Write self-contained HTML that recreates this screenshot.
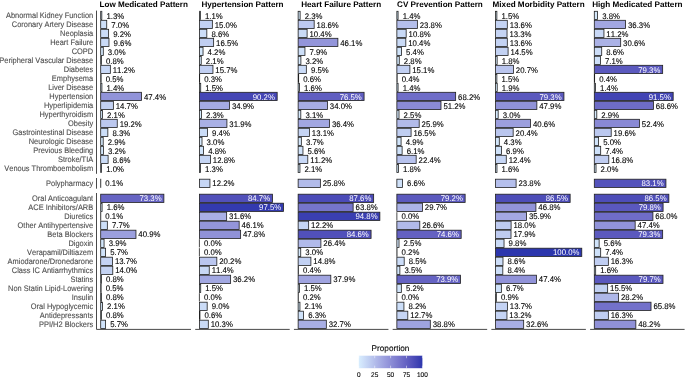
<!DOCTYPE html>
<html><head><meta charset="utf-8"><style>
html,body{margin:0;padding:0;background:#fff;}
body{width:685px;height:378px;overflow:hidden;}
svg{display:block;font-family:"Liberation Sans",sans-serif;text-rendering:geometricPrecision;will-change:transform;}
text{paint-order:stroke;font-kerning:none;}
</style></head><body>
<svg width="685" height="378" viewBox="0 0 685 378">
<rect width="685" height="378" fill="#ffffff"/>
<text transform="translate(143.75,6.70) scale(1,1.0)" font-size="8.15" text-anchor="middle" font-weight="bold" fill="#000" xml:space="preserve">Low Medicated Pattern</text>
<text transform="translate(242.47,6.70) scale(1,1.0)" font-size="8.15" text-anchor="middle" font-weight="bold" fill="#000" xml:space="preserve">Hypertension Pattern</text>
<text transform="translate(341.19,6.70) scale(1,1.0)" font-size="8.15" text-anchor="middle" font-weight="bold" fill="#000" xml:space="preserve">Heart Failure Pattern</text>
<text transform="translate(439.91,6.70) scale(1,1.0)" font-size="8.15" text-anchor="middle" font-weight="bold" fill="#000" xml:space="preserve">CV Prevention Pattern</text>
<text transform="translate(538.63,6.70) scale(1,1.0)" font-size="8.15" text-anchor="middle" font-weight="bold" fill="#000" xml:space="preserve">Mixed Morbidity Pattern</text>
<text transform="translate(637.35,6.70) scale(1,1.0)" font-size="8.15" text-anchor="middle" font-weight="bold" fill="#000" xml:space="preserve">High Medicated Pattern</text>
<line x1="96.50" y1="10.6" x2="96.50" y2="173.8" stroke="#404040" stroke-width="0.95"/>
<text transform="translate(93.20,18.43) scale(1,1.08)" font-size="7.45" text-anchor="end" fill="#4d4d4d" stroke="#4d4d4d" stroke-width="0.1" xml:space="preserve">Abnormal Kidney Function</text>
<text transform="translate(93.20,27.43) scale(1,1.08)" font-size="7.45" text-anchor="end" fill="#4d4d4d" stroke="#4d4d4d" stroke-width="0.1" xml:space="preserve">Coronary Artery Disease</text>
<text transform="translate(93.20,36.43) scale(1,1.08)" font-size="7.45" text-anchor="end" fill="#4d4d4d" stroke="#4d4d4d" stroke-width="0.1" xml:space="preserve">Neoplasia</text>
<text transform="translate(93.20,45.43) scale(1,1.08)" font-size="7.45" text-anchor="end" fill="#4d4d4d" stroke="#4d4d4d" stroke-width="0.1" xml:space="preserve">Heart Failure</text>
<text transform="translate(93.20,54.43) scale(1,1.08)" font-size="7.45" text-anchor="end" fill="#4d4d4d" stroke="#4d4d4d" stroke-width="0.1" xml:space="preserve">COPD</text>
<text transform="translate(93.20,63.43) scale(1,1.08)" font-size="7.45" text-anchor="end" fill="#4d4d4d" stroke="#4d4d4d" stroke-width="0.1" xml:space="preserve">Peripheral Vascular Disease</text>
<text transform="translate(93.20,72.43) scale(1,1.08)" font-size="7.45" text-anchor="end" fill="#4d4d4d" stroke="#4d4d4d" stroke-width="0.1" xml:space="preserve">Diabetes</text>
<text transform="translate(93.20,81.43) scale(1,1.08)" font-size="7.45" text-anchor="end" fill="#4d4d4d" stroke="#4d4d4d" stroke-width="0.1" xml:space="preserve">Emphysema</text>
<text transform="translate(93.20,90.43) scale(1,1.08)" font-size="7.45" text-anchor="end" fill="#4d4d4d" stroke="#4d4d4d" stroke-width="0.1" xml:space="preserve">Liver Disease</text>
<text transform="translate(93.20,99.43) scale(1,1.08)" font-size="7.45" text-anchor="end" fill="#4d4d4d" stroke="#4d4d4d" stroke-width="0.1" xml:space="preserve">Hypertension</text>
<text transform="translate(93.20,108.43) scale(1,1.08)" font-size="7.45" text-anchor="end" fill="#4d4d4d" stroke="#4d4d4d" stroke-width="0.1" xml:space="preserve">Hyperlipidemia</text>
<text transform="translate(93.20,117.43) scale(1,1.08)" font-size="7.45" text-anchor="end" fill="#4d4d4d" stroke="#4d4d4d" stroke-width="0.1" xml:space="preserve">Hyperthyroidism</text>
<text transform="translate(93.20,126.43) scale(1,1.08)" font-size="7.45" text-anchor="end" fill="#4d4d4d" stroke="#4d4d4d" stroke-width="0.1" xml:space="preserve">Obesity</text>
<text transform="translate(93.20,135.43) scale(1,1.08)" font-size="7.45" text-anchor="end" fill="#4d4d4d" stroke="#4d4d4d" stroke-width="0.1" xml:space="preserve">Gastrointestinal Disease</text>
<text transform="translate(93.20,144.43) scale(1,1.08)" font-size="7.45" text-anchor="end" fill="#4d4d4d" stroke="#4d4d4d" stroke-width="0.1" xml:space="preserve">Neurologic Disease</text>
<text transform="translate(93.20,153.43) scale(1,1.08)" font-size="7.45" text-anchor="end" fill="#4d4d4d" stroke="#4d4d4d" stroke-width="0.1" xml:space="preserve">Previous Bleeding</text>
<text transform="translate(93.20,162.43) scale(1,1.08)" font-size="7.45" text-anchor="end" fill="#4d4d4d" stroke="#4d4d4d" stroke-width="0.1" xml:space="preserve">Stroke/TIA</text>
<text transform="translate(93.20,171.43) scale(1,1.08)" font-size="7.45" text-anchor="end" fill="#4d4d4d" stroke="#4d4d4d" stroke-width="0.1" xml:space="preserve">Venous Thromboembolism</text>
<rect x="100.70" y="11.30" width="1.12" height="8.2" fill="#d6ecfd" stroke="#1e1e1e" stroke-width="0.8"/>
<text transform="translate(104.22,18.73) scale(1,1.05)" font-size="7.8" fill="#000" stroke="#000" stroke-width="0.1" xml:space="preserve"> 1.3%</text>
<rect x="100.70" y="20.30" width="6.03" height="8.2" fill="#cee0f9" stroke="#1e1e1e" stroke-width="0.8"/>
<text transform="translate(109.13,27.73) scale(1,1.05)" font-size="7.8" fill="#000" stroke="#000" stroke-width="0.1" xml:space="preserve"> 7.0%</text>
<rect x="100.70" y="29.30" width="7.93" height="8.2" fill="#cbdcf7" stroke="#1e1e1e" stroke-width="0.8"/>
<text transform="translate(111.03,36.73) scale(1,1.05)" font-size="7.8" fill="#000" stroke="#000" stroke-width="0.1" xml:space="preserve"> 9.2%</text>
<rect x="100.70" y="38.30" width="8.28" height="8.2" fill="#cadbf7" stroke="#1e1e1e" stroke-width="0.8"/>
<text transform="translate(111.38,45.73) scale(1,1.05)" font-size="7.8" fill="#000" stroke="#000" stroke-width="0.1" xml:space="preserve"> 9.6%</text>
<rect x="100.70" y="47.30" width="2.59" height="8.2" fill="#d4e8fc" stroke="#1e1e1e" stroke-width="0.8"/>
<text transform="translate(105.69,54.73) scale(1,1.05)" font-size="7.8" fill="#000" stroke="#000" stroke-width="0.1" xml:space="preserve"> 3.0%</text>
<rect x="100.70" y="56.30" width="0.69" height="8.2" fill="#d7edfe" stroke="#1e1e1e" stroke-width="0.8"/>
<text transform="translate(103.79,63.73) scale(1,1.05)" font-size="7.8" fill="#000" stroke="#000" stroke-width="0.1" xml:space="preserve"> 0.8%</text>
<rect x="100.70" y="65.30" width="9.65" height="8.2" fill="#c8d8f6" stroke="#1e1e1e" stroke-width="0.8"/>
<text transform="translate(112.75,72.73) scale(1,1.05)" font-size="7.8" fill="#000" stroke="#000" stroke-width="0.1" xml:space="preserve">11.2%</text>
<rect x="100.70" y="74.30" width="0.43" height="8.2" fill="#d8edfe" stroke="#1e1e1e" stroke-width="0.8"/>
<text transform="translate(103.53,81.73) scale(1,1.05)" font-size="7.8" fill="#000" stroke="#000" stroke-width="0.1" xml:space="preserve"> 0.5%</text>
<rect x="100.70" y="83.30" width="1.21" height="8.2" fill="#d6ecfd" stroke="#1e1e1e" stroke-width="0.8"/>
<text transform="translate(104.31,90.73) scale(1,1.05)" font-size="7.8" fill="#000" stroke="#000" stroke-width="0.1" xml:space="preserve"> 1.4%</text>
<rect x="100.70" y="92.30" width="40.86" height="8.2" fill="#9193d9" stroke="#1e1e1e" stroke-width="0.8"/>
<text transform="translate(143.96,99.73) scale(1,1.05)" font-size="7.8" fill="#000" stroke="#000" stroke-width="0.1" xml:space="preserve">47.4%</text>
<rect x="100.70" y="101.30" width="12.67" height="8.2" fill="#c3d1f3" stroke="#1e1e1e" stroke-width="0.8"/>
<text transform="translate(115.77,108.73) scale(1,1.05)" font-size="7.8" fill="#000" stroke="#000" stroke-width="0.1" xml:space="preserve">14.7%</text>
<rect x="100.70" y="110.30" width="1.81" height="8.2" fill="#d5eafd" stroke="#1e1e1e" stroke-width="0.8"/>
<text transform="translate(104.91,117.73) scale(1,1.05)" font-size="7.8" fill="#000" stroke="#000" stroke-width="0.1" xml:space="preserve"> 2.1%</text>
<rect x="100.70" y="119.30" width="16.55" height="8.2" fill="#bcc8ef" stroke="#1e1e1e" stroke-width="0.8"/>
<text transform="translate(119.65,126.73) scale(1,1.05)" font-size="7.8" fill="#000" stroke="#000" stroke-width="0.1" xml:space="preserve">19.2%</text>
<rect x="100.70" y="128.30" width="7.15" height="8.2" fill="#ccdef8" stroke="#1e1e1e" stroke-width="0.8"/>
<text transform="translate(110.25,135.73) scale(1,1.05)" font-size="7.8" fill="#000" stroke="#000" stroke-width="0.1" xml:space="preserve"> 8.3%</text>
<rect x="100.70" y="137.30" width="2.50" height="8.2" fill="#d4e9fc" stroke="#1e1e1e" stroke-width="0.8"/>
<text transform="translate(105.60,144.73) scale(1,1.05)" font-size="7.8" fill="#000" stroke="#000" stroke-width="0.1" xml:space="preserve"> 2.9%</text>
<rect x="100.70" y="146.30" width="2.76" height="8.2" fill="#d4e8fc" stroke="#1e1e1e" stroke-width="0.8"/>
<text transform="translate(105.86,153.73) scale(1,1.05)" font-size="7.8" fill="#000" stroke="#000" stroke-width="0.1" xml:space="preserve"> 3.2%</text>
<rect x="100.70" y="155.30" width="7.41" height="8.2" fill="#ccddf8" stroke="#1e1e1e" stroke-width="0.8"/>
<text transform="translate(110.51,162.73) scale(1,1.05)" font-size="7.8" fill="#000" stroke="#000" stroke-width="0.1" xml:space="preserve"> 8.6%</text>
<rect x="100.70" y="164.30" width="0.86" height="8.2" fill="#d7ecfe" stroke="#1e1e1e" stroke-width="0.8"/>
<text transform="translate(103.96,171.73) scale(1,1.05)" font-size="7.8" fill="#000" stroke="#000" stroke-width="0.1" xml:space="preserve"> 1.0%</text>
<rect x="199.42" y="11.30" width="0.95" height="8.2" fill="#d7ecfe" stroke="#1e1e1e" stroke-width="0.8"/>
<text transform="translate(202.77,18.73) scale(1,1.05)" font-size="7.8" fill="#000" stroke="#000" stroke-width="0.1" xml:space="preserve"> 1.1%</text>
<rect x="199.42" y="20.30" width="12.93" height="8.2" fill="#c2d1f3" stroke="#1e1e1e" stroke-width="0.8"/>
<text transform="translate(214.75,27.73) scale(1,1.05)" font-size="7.8" fill="#000" stroke="#000" stroke-width="0.1" xml:space="preserve">15.0%</text>
<rect x="199.42" y="29.30" width="7.41" height="8.2" fill="#ccddf8" stroke="#1e1e1e" stroke-width="0.8"/>
<text transform="translate(209.23,36.73) scale(1,1.05)" font-size="7.8" fill="#000" stroke="#000" stroke-width="0.1" xml:space="preserve"> 8.6%</text>
<rect x="199.42" y="38.30" width="14.22" height="8.2" fill="#c0cef1" stroke="#1e1e1e" stroke-width="0.8"/>
<text transform="translate(216.04,45.73) scale(1,1.05)" font-size="7.8" fill="#000" stroke="#000" stroke-width="0.1" xml:space="preserve">16.5%</text>
<rect x="199.42" y="47.30" width="3.62" height="8.2" fill="#d2e6fb" stroke="#1e1e1e" stroke-width="0.8"/>
<text transform="translate(205.44,54.73) scale(1,1.05)" font-size="7.8" fill="#000" stroke="#000" stroke-width="0.1" xml:space="preserve"> 4.2%</text>
<rect x="199.42" y="56.30" width="1.81" height="8.2" fill="#d5eafd" stroke="#1e1e1e" stroke-width="0.8"/>
<text transform="translate(203.63,63.73) scale(1,1.05)" font-size="7.8" fill="#000" stroke="#000" stroke-width="0.1" xml:space="preserve"> 2.1%</text>
<rect x="199.42" y="65.30" width="13.53" height="8.2" fill="#c1cff2" stroke="#1e1e1e" stroke-width="0.8"/>
<text transform="translate(215.35,72.73) scale(1,1.05)" font-size="7.8" fill="#000" stroke="#000" stroke-width="0.1" xml:space="preserve">15.7%</text>
<rect x="199.42" y="74.30" width="0.26" height="8.2" fill="#d8eefe" stroke="#1e1e1e" stroke-width="0.8"/>
<text transform="translate(202.08,81.73) scale(1,1.05)" font-size="7.8" fill="#000" stroke="#000" stroke-width="0.1" xml:space="preserve"> 0.3%</text>
<rect x="199.42" y="83.30" width="1.29" height="8.2" fill="#d6ebfd" stroke="#1e1e1e" stroke-width="0.8"/>
<text transform="translate(203.11,90.73) scale(1,1.05)" font-size="7.8" fill="#000" stroke="#000" stroke-width="0.1" xml:space="preserve"> 1.5%</text>
<rect x="199.42" y="92.30" width="77.75" height="8.2" fill="#4546b5" stroke="#1e1e1e" stroke-width="0.8"/>
<text transform="translate(274.87,99.73) scale(1,1.05)" font-size="7.8" text-anchor="end" fill="#ffffff" xml:space="preserve">90.2%</text>
<rect x="199.42" y="101.30" width="30.08" height="8.2" fill="#a4aae3" stroke="#1e1e1e" stroke-width="0.8"/>
<text transform="translate(231.90,108.73) scale(1,1.05)" font-size="7.8" fill="#000" stroke="#000" stroke-width="0.1" xml:space="preserve">34.9%</text>
<rect x="199.42" y="110.30" width="1.98" height="8.2" fill="#d5eafd" stroke="#1e1e1e" stroke-width="0.8"/>
<text transform="translate(203.80,117.73) scale(1,1.05)" font-size="7.8" fill="#000" stroke="#000" stroke-width="0.1" xml:space="preserve"> 2.3%</text>
<rect x="199.42" y="119.30" width="27.50" height="8.2" fill="#a9b0e5" stroke="#1e1e1e" stroke-width="0.8"/>
<text transform="translate(229.32,126.73) scale(1,1.05)" font-size="7.8" fill="#000" stroke="#000" stroke-width="0.1" xml:space="preserve">31.9%</text>
<rect x="199.42" y="128.30" width="8.10" height="8.2" fill="#cadcf7" stroke="#1e1e1e" stroke-width="0.8"/>
<text transform="translate(209.92,135.73) scale(1,1.05)" font-size="7.8" fill="#000" stroke="#000" stroke-width="0.1" xml:space="preserve"> 9.4%</text>
<rect x="199.42" y="137.30" width="2.59" height="8.2" fill="#d4e8fc" stroke="#1e1e1e" stroke-width="0.8"/>
<text transform="translate(204.41,144.73) scale(1,1.05)" font-size="7.8" fill="#000" stroke="#000" stroke-width="0.1" xml:space="preserve"> 3.0%</text>
<rect x="199.42" y="146.30" width="4.14" height="8.2" fill="#d1e5fb" stroke="#1e1e1e" stroke-width="0.8"/>
<text transform="translate(205.96,153.73) scale(1,1.05)" font-size="7.8" fill="#000" stroke="#000" stroke-width="0.1" xml:space="preserve"> 4.8%</text>
<rect x="199.42" y="155.30" width="11.03" height="8.2" fill="#c5d5f4" stroke="#1e1e1e" stroke-width="0.8"/>
<text transform="translate(212.85,162.73) scale(1,1.05)" font-size="7.8" fill="#000" stroke="#000" stroke-width="0.1" xml:space="preserve">12.8%</text>
<rect x="199.42" y="164.30" width="1.12" height="8.2" fill="#d6ecfd" stroke="#1e1e1e" stroke-width="0.8"/>
<text transform="translate(202.94,171.73) scale(1,1.05)" font-size="7.8" fill="#000" stroke="#000" stroke-width="0.1" xml:space="preserve"> 1.3%</text>
<rect x="298.14" y="11.30" width="1.98" height="8.2" fill="#d5eafd" stroke="#1e1e1e" stroke-width="0.8"/>
<text transform="translate(302.52,18.73) scale(1,1.05)" font-size="7.8" fill="#000" stroke="#000" stroke-width="0.1" xml:space="preserve"> 2.3%</text>
<rect x="298.14" y="20.30" width="16.03" height="8.2" fill="#bdc9f0" stroke="#1e1e1e" stroke-width="0.8"/>
<text transform="translate(316.57,27.73) scale(1,1.05)" font-size="7.8" fill="#000" stroke="#000" stroke-width="0.1" xml:space="preserve">18.6%</text>
<rect x="298.14" y="29.30" width="8.96" height="8.2" fill="#c9daf6" stroke="#1e1e1e" stroke-width="0.8"/>
<text transform="translate(309.50,36.73) scale(1,1.05)" font-size="7.8" fill="#000" stroke="#000" stroke-width="0.1" xml:space="preserve">10.4%</text>
<rect x="298.14" y="38.30" width="39.74" height="8.2" fill="#9395da" stroke="#1e1e1e" stroke-width="0.8"/>
<text transform="translate(340.28,45.73) scale(1,1.05)" font-size="7.8" fill="#000" stroke="#000" stroke-width="0.1" xml:space="preserve">46.1%</text>
<rect x="298.14" y="47.30" width="6.81" height="8.2" fill="#cddff8" stroke="#1e1e1e" stroke-width="0.8"/>
<text transform="translate(307.35,54.73) scale(1,1.05)" font-size="7.8" fill="#000" stroke="#000" stroke-width="0.1" xml:space="preserve"> 7.9%</text>
<rect x="298.14" y="56.30" width="2.76" height="8.2" fill="#d4e8fc" stroke="#1e1e1e" stroke-width="0.8"/>
<text transform="translate(303.30,63.73) scale(1,1.05)" font-size="7.8" fill="#000" stroke="#000" stroke-width="0.1" xml:space="preserve"> 3.2%</text>
<rect x="298.14" y="65.30" width="8.19" height="8.2" fill="#cadbf7" stroke="#1e1e1e" stroke-width="0.8"/>
<text transform="translate(308.73,72.73) scale(1,1.05)" font-size="7.8" fill="#000" stroke="#000" stroke-width="0.1" xml:space="preserve"> 9.5%</text>
<rect x="298.14" y="74.30" width="0.52" height="8.2" fill="#d7edfe" stroke="#1e1e1e" stroke-width="0.8"/>
<text transform="translate(301.06,81.73) scale(1,1.05)" font-size="7.8" fill="#000" stroke="#000" stroke-width="0.1" xml:space="preserve"> 0.6%</text>
<rect x="298.14" y="83.30" width="1.38" height="8.2" fill="#d6ebfd" stroke="#1e1e1e" stroke-width="0.8"/>
<text transform="translate(301.92,90.73) scale(1,1.05)" font-size="7.8" fill="#000" stroke="#000" stroke-width="0.1" xml:space="preserve"> 1.6%</text>
<rect x="298.14" y="92.30" width="65.94" height="8.2" fill="#605ec1" stroke="#1e1e1e" stroke-width="0.8"/>
<text transform="translate(361.78,99.73) scale(1,1.05)" font-size="7.8" text-anchor="end" fill="#ffffff" xml:space="preserve">76.5%</text>
<rect x="298.14" y="101.30" width="29.31" height="8.2" fill="#a6ace3" stroke="#1e1e1e" stroke-width="0.8"/>
<text transform="translate(329.85,108.73) scale(1,1.05)" font-size="7.8" fill="#000" stroke="#000" stroke-width="0.1" xml:space="preserve">34.0%</text>
<rect x="298.14" y="110.30" width="2.67" height="8.2" fill="#d4e8fc" stroke="#1e1e1e" stroke-width="0.8"/>
<text transform="translate(303.21,117.73) scale(1,1.05)" font-size="7.8" fill="#000" stroke="#000" stroke-width="0.1" xml:space="preserve"> 3.1%</text>
<rect x="298.14" y="119.30" width="31.38" height="8.2" fill="#a2a7e2" stroke="#1e1e1e" stroke-width="0.8"/>
<text transform="translate(331.92,126.73) scale(1,1.05)" font-size="7.8" fill="#000" stroke="#000" stroke-width="0.1" xml:space="preserve">36.4%</text>
<rect x="298.14" y="128.30" width="11.29" height="8.2" fill="#c5d4f4" stroke="#1e1e1e" stroke-width="0.8"/>
<text transform="translate(311.83,135.73) scale(1,1.05)" font-size="7.8" fill="#000" stroke="#000" stroke-width="0.1" xml:space="preserve">13.1%</text>
<rect x="298.14" y="137.30" width="3.19" height="8.2" fill="#d3e7fc" stroke="#1e1e1e" stroke-width="0.8"/>
<text transform="translate(303.73,144.73) scale(1,1.05)" font-size="7.8" fill="#000" stroke="#000" stroke-width="0.1" xml:space="preserve"> 3.7%</text>
<rect x="298.14" y="146.30" width="4.83" height="8.2" fill="#d0e3fa" stroke="#1e1e1e" stroke-width="0.8"/>
<text transform="translate(305.37,153.73) scale(1,1.05)" font-size="7.8" fill="#000" stroke="#000" stroke-width="0.1" xml:space="preserve"> 5.6%</text>
<rect x="298.14" y="155.30" width="9.65" height="8.2" fill="#c8d8f6" stroke="#1e1e1e" stroke-width="0.8"/>
<text transform="translate(310.19,162.73) scale(1,1.05)" font-size="7.8" fill="#000" stroke="#000" stroke-width="0.1" xml:space="preserve">11.2%</text>
<rect x="298.14" y="164.30" width="1.81" height="8.2" fill="#d5eafd" stroke="#1e1e1e" stroke-width="0.8"/>
<text transform="translate(302.35,171.73) scale(1,1.05)" font-size="7.8" fill="#000" stroke="#000" stroke-width="0.1" xml:space="preserve"> 2.1%</text>
<rect x="396.86" y="11.30" width="1.21" height="8.2" fill="#d6ecfd" stroke="#1e1e1e" stroke-width="0.8"/>
<text transform="translate(400.47,18.73) scale(1,1.05)" font-size="7.8" fill="#000" stroke="#000" stroke-width="0.1" xml:space="preserve"> 1.4%</text>
<rect x="396.86" y="20.30" width="20.52" height="8.2" fill="#b5bfec" stroke="#1e1e1e" stroke-width="0.8"/>
<text transform="translate(419.78,27.73) scale(1,1.05)" font-size="7.8" fill="#000" stroke="#000" stroke-width="0.1" xml:space="preserve">23.8%</text>
<rect x="396.86" y="29.30" width="9.31" height="8.2" fill="#c8d9f6" stroke="#1e1e1e" stroke-width="0.8"/>
<text transform="translate(408.57,36.73) scale(1,1.05)" font-size="7.8" fill="#000" stroke="#000" stroke-width="0.1" xml:space="preserve">10.8%</text>
<rect x="396.86" y="38.30" width="8.96" height="8.2" fill="#c9daf6" stroke="#1e1e1e" stroke-width="0.8"/>
<text transform="translate(408.22,45.73) scale(1,1.05)" font-size="7.8" fill="#000" stroke="#000" stroke-width="0.1" xml:space="preserve">10.4%</text>
<rect x="396.86" y="47.30" width="4.65" height="8.2" fill="#d0e4fa" stroke="#1e1e1e" stroke-width="0.8"/>
<text transform="translate(403.91,54.73) scale(1,1.05)" font-size="7.8" fill="#000" stroke="#000" stroke-width="0.1" xml:space="preserve"> 5.4%</text>
<rect x="396.86" y="56.30" width="2.41" height="8.2" fill="#d4e9fc" stroke="#1e1e1e" stroke-width="0.8"/>
<text transform="translate(401.67,63.73) scale(1,1.05)" font-size="7.8" fill="#000" stroke="#000" stroke-width="0.1" xml:space="preserve"> 2.8%</text>
<rect x="396.86" y="65.30" width="13.02" height="8.2" fill="#c2d0f3" stroke="#1e1e1e" stroke-width="0.8"/>
<text transform="translate(412.28,72.73) scale(1,1.05)" font-size="7.8" fill="#000" stroke="#000" stroke-width="0.1" xml:space="preserve">15.1%</text>
<rect x="396.86" y="74.30" width="0.34" height="8.2" fill="#d8eefe" stroke="#1e1e1e" stroke-width="0.8"/>
<text transform="translate(399.60,81.73) scale(1,1.05)" font-size="7.8" fill="#000" stroke="#000" stroke-width="0.1" xml:space="preserve"> 0.4%</text>
<rect x="396.86" y="83.30" width="1.21" height="8.2" fill="#d6ecfd" stroke="#1e1e1e" stroke-width="0.8"/>
<text transform="translate(400.47,90.73) scale(1,1.05)" font-size="7.8" fill="#000" stroke="#000" stroke-width="0.1" xml:space="preserve"> 1.4%</text>
<rect x="396.86" y="92.30" width="58.79" height="8.2" fill="#6f6dc8" stroke="#1e1e1e" stroke-width="0.8"/>
<text transform="translate(458.05,99.73) scale(1,1.05)" font-size="7.8" fill="#000" stroke="#000" stroke-width="0.1" xml:space="preserve">68.2%</text>
<rect x="396.86" y="101.30" width="44.13" height="8.2" fill="#8b8bd6" stroke="#1e1e1e" stroke-width="0.8"/>
<text transform="translate(443.39,108.73) scale(1,1.05)" font-size="7.8" fill="#000" stroke="#000" stroke-width="0.1" xml:space="preserve">51.2%</text>
<rect x="396.86" y="110.30" width="2.15" height="8.2" fill="#d5e9fd" stroke="#1e1e1e" stroke-width="0.8"/>
<text transform="translate(401.41,117.73) scale(1,1.05)" font-size="7.8" fill="#000" stroke="#000" stroke-width="0.1" xml:space="preserve"> 2.5%</text>
<rect x="396.86" y="119.30" width="22.33" height="8.2" fill="#b2bbea" stroke="#1e1e1e" stroke-width="0.8"/>
<text transform="translate(421.59,126.73) scale(1,1.05)" font-size="7.8" fill="#000" stroke="#000" stroke-width="0.1" xml:space="preserve">25.9%</text>
<rect x="396.86" y="128.30" width="14.22" height="8.2" fill="#c0cef1" stroke="#1e1e1e" stroke-width="0.8"/>
<text transform="translate(413.48,135.73) scale(1,1.05)" font-size="7.8" fill="#000" stroke="#000" stroke-width="0.1" xml:space="preserve">16.5%</text>
<rect x="396.86" y="137.30" width="4.22" height="8.2" fill="#d1e5fb" stroke="#1e1e1e" stroke-width="0.8"/>
<text transform="translate(403.48,144.73) scale(1,1.05)" font-size="7.8" fill="#000" stroke="#000" stroke-width="0.1" xml:space="preserve"> 4.9%</text>
<rect x="396.86" y="146.30" width="5.26" height="8.2" fill="#cfe2fa" stroke="#1e1e1e" stroke-width="0.8"/>
<text transform="translate(404.52,153.73) scale(1,1.05)" font-size="7.8" fill="#000" stroke="#000" stroke-width="0.1" xml:space="preserve"> 6.1%</text>
<rect x="396.86" y="155.30" width="19.31" height="8.2" fill="#b7c2ed" stroke="#1e1e1e" stroke-width="0.8"/>
<text transform="translate(418.57,162.73) scale(1,1.05)" font-size="7.8" fill="#000" stroke="#000" stroke-width="0.1" xml:space="preserve">22.4%</text>
<rect x="396.86" y="164.30" width="1.55" height="8.2" fill="#d6ebfd" stroke="#1e1e1e" stroke-width="0.8"/>
<text transform="translate(400.81,171.73) scale(1,1.05)" font-size="7.8" fill="#000" stroke="#000" stroke-width="0.1" xml:space="preserve"> 1.8%</text>
<rect x="495.58" y="11.30" width="1.29" height="8.2" fill="#d6ebfd" stroke="#1e1e1e" stroke-width="0.8"/>
<text transform="translate(499.27,18.73) scale(1,1.05)" font-size="7.8" fill="#000" stroke="#000" stroke-width="0.1" xml:space="preserve"> 1.5%</text>
<rect x="495.58" y="20.30" width="11.72" height="8.2" fill="#c4d3f4" stroke="#1e1e1e" stroke-width="0.8"/>
<text transform="translate(509.70,27.73) scale(1,1.05)" font-size="7.8" fill="#000" stroke="#000" stroke-width="0.1" xml:space="preserve">13.6%</text>
<rect x="495.58" y="29.30" width="11.46" height="8.2" fill="#c5d4f4" stroke="#1e1e1e" stroke-width="0.8"/>
<text transform="translate(509.44,36.73) scale(1,1.05)" font-size="7.8" fill="#000" stroke="#000" stroke-width="0.1" xml:space="preserve">13.3%</text>
<rect x="495.58" y="38.30" width="11.72" height="8.2" fill="#c4d3f4" stroke="#1e1e1e" stroke-width="0.8"/>
<text transform="translate(509.70,45.73) scale(1,1.05)" font-size="7.8" fill="#000" stroke="#000" stroke-width="0.1" xml:space="preserve">13.6%</text>
<rect x="495.58" y="47.30" width="12.50" height="8.2" fill="#c3d2f3" stroke="#1e1e1e" stroke-width="0.8"/>
<text transform="translate(510.48,54.73) scale(1,1.05)" font-size="7.8" fill="#000" stroke="#000" stroke-width="0.1" xml:space="preserve">14.5%</text>
<rect x="495.58" y="56.30" width="1.55" height="8.2" fill="#d6ebfd" stroke="#1e1e1e" stroke-width="0.8"/>
<text transform="translate(499.53,63.73) scale(1,1.05)" font-size="7.8" fill="#000" stroke="#000" stroke-width="0.1" xml:space="preserve"> 1.8%</text>
<rect x="495.58" y="65.30" width="17.84" height="8.2" fill="#bac5ee" stroke="#1e1e1e" stroke-width="0.8"/>
<text transform="translate(515.82,72.73) scale(1,1.05)" font-size="7.8" fill="#000" stroke="#000" stroke-width="0.1" xml:space="preserve">20.7%</text>
<rect x="495.58" y="74.30" width="1.29" height="8.2" fill="#d6ebfd" stroke="#1e1e1e" stroke-width="0.8"/>
<text transform="translate(499.27,81.73) scale(1,1.05)" font-size="7.8" fill="#000" stroke="#000" stroke-width="0.1" xml:space="preserve"> 1.5%</text>
<rect x="495.58" y="83.30" width="1.64" height="8.2" fill="#d5ebfd" stroke="#1e1e1e" stroke-width="0.8"/>
<text transform="translate(499.62,90.73) scale(1,1.05)" font-size="7.8" fill="#000" stroke="#000" stroke-width="0.1" xml:space="preserve"> 1.9%</text>
<rect x="495.58" y="92.30" width="68.36" height="8.2" fill="#5b59be" stroke="#1e1e1e" stroke-width="0.8"/>
<text transform="translate(561.64,99.73) scale(1,1.05)" font-size="7.8" text-anchor="end" fill="#ffffff" xml:space="preserve">79.3%</text>
<rect x="495.58" y="101.30" width="41.29" height="8.2" fill="#9092d8" stroke="#1e1e1e" stroke-width="0.8"/>
<text transform="translate(539.27,108.73) scale(1,1.05)" font-size="7.8" fill="#000" stroke="#000" stroke-width="0.1" xml:space="preserve">47.9%</text>
<rect x="495.58" y="110.30" width="2.59" height="8.2" fill="#d4e8fc" stroke="#1e1e1e" stroke-width="0.8"/>
<text transform="translate(500.57,117.73) scale(1,1.05)" font-size="7.8" fill="#000" stroke="#000" stroke-width="0.1" xml:space="preserve"> 3.0%</text>
<rect x="495.58" y="119.30" width="35.00" height="8.2" fill="#9c9fde" stroke="#1e1e1e" stroke-width="0.8"/>
<text transform="translate(532.98,126.73) scale(1,1.05)" font-size="7.8" fill="#000" stroke="#000" stroke-width="0.1" xml:space="preserve">40.6%</text>
<rect x="495.58" y="128.30" width="17.58" height="8.2" fill="#bac6ee" stroke="#1e1e1e" stroke-width="0.8"/>
<text transform="translate(515.56,135.73) scale(1,1.05)" font-size="7.8" fill="#000" stroke="#000" stroke-width="0.1" xml:space="preserve">20.4%</text>
<rect x="495.58" y="137.30" width="3.71" height="8.2" fill="#d2e6fb" stroke="#1e1e1e" stroke-width="0.8"/>
<text transform="translate(501.69,144.73) scale(1,1.05)" font-size="7.8" fill="#000" stroke="#000" stroke-width="0.1" xml:space="preserve"> 4.3%</text>
<rect x="495.58" y="146.30" width="5.95" height="8.2" fill="#cee1f9" stroke="#1e1e1e" stroke-width="0.8"/>
<text transform="translate(503.93,153.73) scale(1,1.05)" font-size="7.8" fill="#000" stroke="#000" stroke-width="0.1" xml:space="preserve"> 6.9%</text>
<rect x="495.58" y="155.30" width="10.69" height="8.2" fill="#c6d6f5" stroke="#1e1e1e" stroke-width="0.8"/>
<text transform="translate(508.67,162.73) scale(1,1.05)" font-size="7.8" fill="#000" stroke="#000" stroke-width="0.1" xml:space="preserve">12.4%</text>
<rect x="495.58" y="164.30" width="1.38" height="8.2" fill="#d6ebfd" stroke="#1e1e1e" stroke-width="0.8"/>
<text transform="translate(499.36,171.73) scale(1,1.05)" font-size="7.8" fill="#000" stroke="#000" stroke-width="0.1" xml:space="preserve"> 1.6%</text>
<rect x="594.30" y="11.30" width="3.28" height="8.2" fill="#d3e7fb" stroke="#1e1e1e" stroke-width="0.8"/>
<text transform="translate(599.98,18.73) scale(1,1.05)" font-size="7.8" fill="#000" stroke="#000" stroke-width="0.1" xml:space="preserve"> 3.8%</text>
<rect x="594.30" y="20.30" width="31.29" height="8.2" fill="#a2a7e2" stroke="#1e1e1e" stroke-width="0.8"/>
<text transform="translate(627.99,27.73) scale(1,1.05)" font-size="7.8" fill="#000" stroke="#000" stroke-width="0.1" xml:space="preserve">36.3%</text>
<rect x="594.30" y="29.30" width="9.65" height="8.2" fill="#c8d8f6" stroke="#1e1e1e" stroke-width="0.8"/>
<text transform="translate(606.35,36.73) scale(1,1.05)" font-size="7.8" fill="#000" stroke="#000" stroke-width="0.1" xml:space="preserve">11.2%</text>
<rect x="594.30" y="38.30" width="26.38" height="8.2" fill="#abb2e6" stroke="#1e1e1e" stroke-width="0.8"/>
<text transform="translate(623.08,45.73) scale(1,1.05)" font-size="7.8" fill="#000" stroke="#000" stroke-width="0.1" xml:space="preserve">30.6%</text>
<rect x="594.30" y="47.30" width="7.41" height="8.2" fill="#ccddf8" stroke="#1e1e1e" stroke-width="0.8"/>
<text transform="translate(604.11,54.73) scale(1,1.05)" font-size="7.8" fill="#000" stroke="#000" stroke-width="0.1" xml:space="preserve"> 8.6%</text>
<rect x="594.30" y="56.30" width="6.12" height="8.2" fill="#cee0f9" stroke="#1e1e1e" stroke-width="0.8"/>
<text transform="translate(602.82,63.73) scale(1,1.05)" font-size="7.8" fill="#000" stroke="#000" stroke-width="0.1" xml:space="preserve"> 7.1%</text>
<rect x="594.30" y="65.30" width="68.36" height="8.2" fill="#5b59be" stroke="#1e1e1e" stroke-width="0.8"/>
<text transform="translate(660.36,72.73) scale(1,1.05)" font-size="7.8" text-anchor="end" fill="#ffffff" xml:space="preserve">79.3%</text>
<rect x="594.30" y="74.30" width="0.34" height="8.2" fill="#d8eefe" stroke="#1e1e1e" stroke-width="0.8"/>
<text transform="translate(597.04,81.73) scale(1,1.05)" font-size="7.8" fill="#000" stroke="#000" stroke-width="0.1" xml:space="preserve"> 0.4%</text>
<rect x="594.30" y="83.30" width="1.21" height="8.2" fill="#d6ecfd" stroke="#1e1e1e" stroke-width="0.8"/>
<text transform="translate(597.91,90.73) scale(1,1.05)" font-size="7.8" fill="#000" stroke="#000" stroke-width="0.1" xml:space="preserve"> 1.4%</text>
<rect x="594.30" y="92.30" width="78.87" height="8.2" fill="#4244b4" stroke="#1e1e1e" stroke-width="0.8"/>
<text transform="translate(670.87,99.73) scale(1,1.05)" font-size="7.8" text-anchor="end" fill="#ffffff" xml:space="preserve">91.5%</text>
<rect x="594.30" y="101.30" width="59.13" height="8.2" fill="#6e6cc7" stroke="#1e1e1e" stroke-width="0.8"/>
<text transform="translate(655.83,108.73) scale(1,1.05)" font-size="7.8" fill="#000" stroke="#000" stroke-width="0.1" xml:space="preserve">68.6%</text>
<rect x="594.30" y="110.30" width="2.50" height="8.2" fill="#d4e9fc" stroke="#1e1e1e" stroke-width="0.8"/>
<text transform="translate(599.20,117.73) scale(1,1.05)" font-size="7.8" fill="#000" stroke="#000" stroke-width="0.1" xml:space="preserve"> 2.9%</text>
<rect x="594.30" y="119.30" width="45.17" height="8.2" fill="#8989d5" stroke="#1e1e1e" stroke-width="0.8"/>
<text transform="translate(641.87,126.73) scale(1,1.05)" font-size="7.8" fill="#000" stroke="#000" stroke-width="0.1" xml:space="preserve">52.4%</text>
<rect x="594.30" y="128.30" width="16.90" height="8.2" fill="#bbc8ef" stroke="#1e1e1e" stroke-width="0.8"/>
<text transform="translate(613.60,135.73) scale(1,1.05)" font-size="7.8" fill="#000" stroke="#000" stroke-width="0.1" xml:space="preserve">19.6%</text>
<rect x="594.30" y="137.30" width="4.31" height="8.2" fill="#d1e4fb" stroke="#1e1e1e" stroke-width="0.8"/>
<text transform="translate(601.01,144.73) scale(1,1.05)" font-size="7.8" fill="#000" stroke="#000" stroke-width="0.1" xml:space="preserve"> 5.0%</text>
<rect x="594.30" y="146.30" width="6.38" height="8.2" fill="#cde0f9" stroke="#1e1e1e" stroke-width="0.8"/>
<text transform="translate(603.08,153.73) scale(1,1.05)" font-size="7.8" fill="#000" stroke="#000" stroke-width="0.1" xml:space="preserve"> 7.4%</text>
<rect x="594.30" y="155.30" width="14.48" height="8.2" fill="#c0cdf1" stroke="#1e1e1e" stroke-width="0.8"/>
<text transform="translate(611.18,162.73) scale(1,1.05)" font-size="7.8" fill="#000" stroke="#000" stroke-width="0.1" xml:space="preserve">16.8%</text>
<rect x="594.30" y="164.30" width="1.72" height="8.2" fill="#d5eafd" stroke="#1e1e1e" stroke-width="0.8"/>
<text transform="translate(598.42,171.73) scale(1,1.05)" font-size="7.8" fill="#000" stroke="#000" stroke-width="0.1" xml:space="preserve"> 2.0%</text>
<line x1="96.50" y1="178.0" x2="96.50" y2="188.7" stroke="#404040" stroke-width="0.95"/>
<text transform="translate(93.20,186.38) scale(1,1.08)" font-size="7.45" text-anchor="end" fill="#4d4d4d" stroke="#4d4d4d" stroke-width="0.1" xml:space="preserve">Polypharmacy</text>
<rect x="100.70" y="179.20" width="0.09" height="8.2" fill="#d8eefe" stroke="#1e1e1e" stroke-width="0.8"/>
<text transform="translate(103.19,186.43) scale(1,1.05)" font-size="7.8" fill="#000" stroke="#000" stroke-width="0.1" xml:space="preserve"> 0.1%</text>
<rect x="199.42" y="179.20" width="10.52" height="8.2" fill="#c6d6f5" stroke="#1e1e1e" stroke-width="0.8"/>
<text transform="translate(212.34,186.43) scale(1,1.05)" font-size="7.8" fill="#000" stroke="#000" stroke-width="0.1" xml:space="preserve">12.2%</text>
<rect x="298.14" y="179.20" width="22.24" height="8.2" fill="#b2bbea" stroke="#1e1e1e" stroke-width="0.8"/>
<text transform="translate(322.78,186.43) scale(1,1.05)" font-size="7.8" fill="#000" stroke="#000" stroke-width="0.1" xml:space="preserve">25.8%</text>
<rect x="396.86" y="179.20" width="5.69" height="8.2" fill="#cfe1f9" stroke="#1e1e1e" stroke-width="0.8"/>
<text transform="translate(404.95,186.43) scale(1,1.05)" font-size="7.8" fill="#000" stroke="#000" stroke-width="0.1" xml:space="preserve"> 6.6%</text>
<rect x="495.58" y="179.20" width="20.52" height="8.2" fill="#b5bfec" stroke="#1e1e1e" stroke-width="0.8"/>
<text transform="translate(518.50,186.43) scale(1,1.05)" font-size="7.8" fill="#000" stroke="#000" stroke-width="0.1" xml:space="preserve">23.8%</text>
<rect x="594.30" y="179.20" width="71.63" height="8.2" fill="#5453bb" stroke="#1e1e1e" stroke-width="0.8"/>
<text transform="translate(663.63,186.43) scale(1,1.05)" font-size="7.8" text-anchor="end" fill="#ffffff" xml:space="preserve">83.1%</text>
<line x1="96.50" y1="193.0" x2="96.50" y2="329.4" stroke="#404040" stroke-width="0.95"/>
<text transform="translate(93.20,201.08) scale(1,1.08)" font-size="7.45" text-anchor="end" fill="#4d4d4d" stroke="#4d4d4d" stroke-width="0.1" xml:space="preserve">Oral Anticoagulant</text>
<text transform="translate(93.20,210.08) scale(1,1.08)" font-size="7.45" text-anchor="end" fill="#4d4d4d" stroke="#4d4d4d" stroke-width="0.1" xml:space="preserve">ACE Inhibitors/ARB</text>
<text transform="translate(93.20,219.08) scale(1,1.08)" font-size="7.45" text-anchor="end" fill="#4d4d4d" stroke="#4d4d4d" stroke-width="0.1" xml:space="preserve">Diuretics</text>
<text transform="translate(93.20,228.08) scale(1,1.08)" font-size="7.45" text-anchor="end" fill="#4d4d4d" stroke="#4d4d4d" stroke-width="0.1" xml:space="preserve">Other Antihypertensive</text>
<text transform="translate(93.20,237.08) scale(1,1.08)" font-size="7.45" text-anchor="end" fill="#4d4d4d" stroke="#4d4d4d" stroke-width="0.1" xml:space="preserve">Beta Blockers</text>
<text transform="translate(93.20,246.08) scale(1,1.08)" font-size="7.45" text-anchor="end" fill="#4d4d4d" stroke="#4d4d4d" stroke-width="0.1" xml:space="preserve">Digoxin</text>
<text transform="translate(93.20,255.08) scale(1,1.08)" font-size="7.45" text-anchor="end" fill="#4d4d4d" stroke="#4d4d4d" stroke-width="0.1" xml:space="preserve">Verapamil/Diltiazem</text>
<text transform="translate(93.20,264.08) scale(1,1.08)" font-size="7.45" text-anchor="end" fill="#4d4d4d" stroke="#4d4d4d" stroke-width="0.1" xml:space="preserve">Amiodarone/Dronedarone</text>
<text transform="translate(93.20,273.08) scale(1,1.08)" font-size="7.45" text-anchor="end" fill="#4d4d4d" stroke="#4d4d4d" stroke-width="0.1" xml:space="preserve">Class IC Antiarrhythmics</text>
<text transform="translate(93.20,282.08) scale(1,1.08)" font-size="7.45" text-anchor="end" fill="#4d4d4d" stroke="#4d4d4d" stroke-width="0.1" xml:space="preserve">Statins</text>
<text transform="translate(93.20,291.08) scale(1,1.08)" font-size="7.45" text-anchor="end" fill="#4d4d4d" stroke="#4d4d4d" stroke-width="0.1" xml:space="preserve">Non Statin Lipid-Lowering</text>
<text transform="translate(93.20,300.08) scale(1,1.08)" font-size="7.45" text-anchor="end" fill="#4d4d4d" stroke="#4d4d4d" stroke-width="0.1" xml:space="preserve">Insulin</text>
<text transform="translate(93.20,309.08) scale(1,1.08)" font-size="7.45" text-anchor="end" fill="#4d4d4d" stroke="#4d4d4d" stroke-width="0.1" xml:space="preserve">Oral Hypoglycemic</text>
<text transform="translate(93.20,318.08) scale(1,1.08)" font-size="7.45" text-anchor="end" fill="#4d4d4d" stroke="#4d4d4d" stroke-width="0.1" xml:space="preserve">Antidepressants</text>
<text transform="translate(93.20,327.08) scale(1,1.08)" font-size="7.45" text-anchor="end" fill="#4d4d4d" stroke="#4d4d4d" stroke-width="0.1" xml:space="preserve">PPI/H2 Blockers</text>
<rect x="100.70" y="194.20" width="63.18" height="8.2" fill="#6664c3" stroke="#1e1e1e" stroke-width="0.8"/>
<text transform="translate(161.58,201.13) scale(1,1.05)" font-size="7.8" text-anchor="end" fill="#ffffff" xml:space="preserve">73.3%</text>
<rect x="100.70" y="203.20" width="1.38" height="8.2" fill="#d6ebfd" stroke="#1e1e1e" stroke-width="0.8"/>
<text transform="translate(104.48,210.13) scale(1,1.05)" font-size="7.8" fill="#000" stroke="#000" stroke-width="0.1" xml:space="preserve"> 1.6%</text>
<rect x="100.70" y="212.20" width="0.09" height="8.2" fill="#d8eefe" stroke="#1e1e1e" stroke-width="0.8"/>
<text transform="translate(103.19,219.13) scale(1,1.05)" font-size="7.8" fill="#000" stroke="#000" stroke-width="0.1" xml:space="preserve"> 0.1%</text>
<rect x="100.70" y="221.20" width="6.64" height="8.2" fill="#cddff8" stroke="#1e1e1e" stroke-width="0.8"/>
<text transform="translate(109.74,228.13) scale(1,1.05)" font-size="7.8" fill="#000" stroke="#000" stroke-width="0.1" xml:space="preserve"> 7.7%</text>
<rect x="100.70" y="230.20" width="35.26" height="8.2" fill="#9b9fde" stroke="#1e1e1e" stroke-width="0.8"/>
<text transform="translate(138.36,237.13) scale(1,1.05)" font-size="7.8" fill="#000" stroke="#000" stroke-width="0.1" xml:space="preserve">40.9%</text>
<rect x="100.70" y="239.20" width="3.36" height="8.2" fill="#d3e7fb" stroke="#1e1e1e" stroke-width="0.8"/>
<text transform="translate(106.46,246.13) scale(1,1.05)" font-size="7.8" fill="#000" stroke="#000" stroke-width="0.1" xml:space="preserve"> 3.9%</text>
<rect x="100.70" y="248.20" width="4.91" height="8.2" fill="#d0e3fa" stroke="#1e1e1e" stroke-width="0.8"/>
<text transform="translate(108.01,255.13) scale(1,1.05)" font-size="7.8" fill="#000" stroke="#000" stroke-width="0.1" xml:space="preserve"> 5.7%</text>
<rect x="100.70" y="257.20" width="11.81" height="8.2" fill="#c4d3f4" stroke="#1e1e1e" stroke-width="0.8"/>
<text transform="translate(114.91,264.13) scale(1,1.05)" font-size="7.8" fill="#000" stroke="#000" stroke-width="0.1" xml:space="preserve">13.7%</text>
<rect x="100.70" y="266.20" width="12.07" height="8.2" fill="#c4d3f3" stroke="#1e1e1e" stroke-width="0.8"/>
<text transform="translate(115.17,273.13) scale(1,1.05)" font-size="7.8" fill="#000" stroke="#000" stroke-width="0.1" xml:space="preserve">14.0%</text>
<rect x="100.70" y="275.20" width="0.69" height="8.2" fill="#d7edfe" stroke="#1e1e1e" stroke-width="0.8"/>
<text transform="translate(103.79,282.13) scale(1,1.05)" font-size="7.8" fill="#000" stroke="#000" stroke-width="0.1" xml:space="preserve"> 0.8%</text>
<rect x="100.70" y="284.20" width="0.43" height="8.2" fill="#d8edfe" stroke="#1e1e1e" stroke-width="0.8"/>
<text transform="translate(103.53,291.13) scale(1,1.05)" font-size="7.8" fill="#000" stroke="#000" stroke-width="0.1" xml:space="preserve"> 0.5%</text>
<rect x="100.70" y="293.20" width="0.69" height="8.2" fill="#d7edfe" stroke="#1e1e1e" stroke-width="0.8"/>
<text transform="translate(103.79,300.13) scale(1,1.05)" font-size="7.8" fill="#000" stroke="#000" stroke-width="0.1" xml:space="preserve"> 0.8%</text>
<rect x="100.70" y="302.20" width="1.81" height="8.2" fill="#d5eafd" stroke="#1e1e1e" stroke-width="0.8"/>
<text transform="translate(104.91,309.13) scale(1,1.05)" font-size="7.8" fill="#000" stroke="#000" stroke-width="0.1" xml:space="preserve"> 2.1%</text>
<rect x="100.70" y="311.20" width="0.69" height="8.2" fill="#d7edfe" stroke="#1e1e1e" stroke-width="0.8"/>
<text transform="translate(103.79,318.13) scale(1,1.05)" font-size="7.8" fill="#000" stroke="#000" stroke-width="0.1" xml:space="preserve"> 0.8%</text>
<rect x="100.70" y="320.20" width="4.91" height="8.2" fill="#d0e3fa" stroke="#1e1e1e" stroke-width="0.8"/>
<text transform="translate(108.01,327.13) scale(1,1.05)" font-size="7.8" fill="#000" stroke="#000" stroke-width="0.1" xml:space="preserve"> 5.7%</text>
<rect x="199.42" y="194.20" width="73.01" height="8.2" fill="#5150ba" stroke="#1e1e1e" stroke-width="0.8"/>
<text transform="translate(270.13,201.13) scale(1,1.05)" font-size="7.8" text-anchor="end" fill="#ffffff" xml:space="preserve">84.7%</text>
<rect x="199.42" y="203.20" width="84.05" height="8.2" fill="#333aaf" stroke="#1e1e1e" stroke-width="0.8"/>
<text transform="translate(281.16,210.13) scale(1,1.05)" font-size="7.8" text-anchor="end" fill="#ffffff" xml:space="preserve">97.5%</text>
<rect x="199.42" y="212.20" width="27.24" height="8.2" fill="#a9b0e5" stroke="#1e1e1e" stroke-width="0.8"/>
<text transform="translate(229.06,219.13) scale(1,1.05)" font-size="7.8" fill="#000" stroke="#000" stroke-width="0.1" xml:space="preserve">31.6%</text>
<rect x="199.42" y="221.20" width="39.74" height="8.2" fill="#9395da" stroke="#1e1e1e" stroke-width="0.8"/>
<text transform="translate(241.56,228.13) scale(1,1.05)" font-size="7.8" fill="#000" stroke="#000" stroke-width="0.1" xml:space="preserve">46.1%</text>
<rect x="199.42" y="230.20" width="41.20" height="8.2" fill="#9092d8" stroke="#1e1e1e" stroke-width="0.8"/>
<text transform="translate(243.02,237.13) scale(1,1.05)" font-size="7.8" fill="#000" stroke="#000" stroke-width="0.1" xml:space="preserve">47.8%</text>
<line x1="199.42" y1="239.20" x2="199.42" y2="247.40" stroke="#1e1e1e" stroke-width="0.8"/>
<text transform="translate(201.82,246.13) scale(1,1.05)" font-size="7.8" fill="#000" stroke="#000" stroke-width="0.1" xml:space="preserve"> 0.0%</text>
<line x1="199.42" y1="248.20" x2="199.42" y2="256.40" stroke="#1e1e1e" stroke-width="0.8"/>
<text transform="translate(201.82,255.13) scale(1,1.05)" font-size="7.8" fill="#000" stroke="#000" stroke-width="0.1" xml:space="preserve"> 0.0%</text>
<rect x="199.42" y="257.20" width="17.41" height="8.2" fill="#bac6ef" stroke="#1e1e1e" stroke-width="0.8"/>
<text transform="translate(219.23,264.13) scale(1,1.05)" font-size="7.8" fill="#000" stroke="#000" stroke-width="0.1" xml:space="preserve">20.2%</text>
<rect x="199.42" y="266.20" width="9.83" height="8.2" fill="#c8d8f5" stroke="#1e1e1e" stroke-width="0.8"/>
<text transform="translate(211.65,273.13) scale(1,1.05)" font-size="7.8" fill="#000" stroke="#000" stroke-width="0.1" xml:space="preserve">11.4%</text>
<rect x="199.42" y="275.20" width="31.20" height="8.2" fill="#a2a8e2" stroke="#1e1e1e" stroke-width="0.8"/>
<text transform="translate(233.02,282.13) scale(1,1.05)" font-size="7.8" fill="#000" stroke="#000" stroke-width="0.1" xml:space="preserve">36.2%</text>
<rect x="199.42" y="284.20" width="1.29" height="8.2" fill="#d6ebfd" stroke="#1e1e1e" stroke-width="0.8"/>
<text transform="translate(203.11,291.13) scale(1,1.05)" font-size="7.8" fill="#000" stroke="#000" stroke-width="0.1" xml:space="preserve"> 1.5%</text>
<line x1="199.42" y1="293.20" x2="199.42" y2="301.40" stroke="#1e1e1e" stroke-width="0.8"/>
<text transform="translate(201.82,300.13) scale(1,1.05)" font-size="7.8" fill="#000" stroke="#000" stroke-width="0.1" xml:space="preserve"> 0.0%</text>
<rect x="199.42" y="302.20" width="7.76" height="8.2" fill="#cbdcf7" stroke="#1e1e1e" stroke-width="0.8"/>
<text transform="translate(209.58,309.13) scale(1,1.05)" font-size="7.8" fill="#000" stroke="#000" stroke-width="0.1" xml:space="preserve"> 9.0%</text>
<rect x="199.42" y="311.20" width="0.52" height="8.2" fill="#d7edfe" stroke="#1e1e1e" stroke-width="0.8"/>
<text transform="translate(202.34,318.13) scale(1,1.05)" font-size="7.8" fill="#000" stroke="#000" stroke-width="0.1" xml:space="preserve"> 0.6%</text>
<rect x="199.42" y="320.20" width="8.88" height="8.2" fill="#c9daf6" stroke="#1e1e1e" stroke-width="0.8"/>
<text transform="translate(210.70,327.13) scale(1,1.05)" font-size="7.8" fill="#000" stroke="#000" stroke-width="0.1" xml:space="preserve">10.3%</text>
<rect x="298.14" y="194.20" width="75.51" height="8.2" fill="#4b4bb8" stroke="#1e1e1e" stroke-width="0.8"/>
<text transform="translate(371.35,201.13) scale(1,1.05)" font-size="7.8" text-anchor="end" fill="#ffffff" xml:space="preserve">87.6%</text>
<rect x="298.14" y="203.20" width="55.00" height="8.2" fill="#7675cb" stroke="#1e1e1e" stroke-width="0.8"/>
<text transform="translate(355.54,210.13) scale(1,1.05)" font-size="7.8" fill="#000" stroke="#000" stroke-width="0.1" xml:space="preserve">63.8%</text>
<rect x="298.14" y="212.20" width="81.72" height="8.2" fill="#3a3fb1" stroke="#1e1e1e" stroke-width="0.8"/>
<text transform="translate(377.56,219.13) scale(1,1.05)" font-size="7.8" text-anchor="end" fill="#ffffff" xml:space="preserve">94.8%</text>
<rect x="298.14" y="221.20" width="10.52" height="8.2" fill="#c6d6f5" stroke="#1e1e1e" stroke-width="0.8"/>
<text transform="translate(311.06,228.13) scale(1,1.05)" font-size="7.8" fill="#000" stroke="#000" stroke-width="0.1" xml:space="preserve">12.2%</text>
<rect x="298.14" y="230.20" width="72.93" height="8.2" fill="#5150ba" stroke="#1e1e1e" stroke-width="0.8"/>
<text transform="translate(368.77,237.13) scale(1,1.05)" font-size="7.8" text-anchor="end" fill="#ffffff" xml:space="preserve">84.6%</text>
<rect x="298.14" y="239.20" width="22.76" height="8.2" fill="#b1baea" stroke="#1e1e1e" stroke-width="0.8"/>
<text transform="translate(323.30,246.13) scale(1,1.05)" font-size="7.8" fill="#000" stroke="#000" stroke-width="0.1" xml:space="preserve">26.4%</text>
<rect x="298.14" y="248.20" width="2.59" height="8.2" fill="#d4e8fc" stroke="#1e1e1e" stroke-width="0.8"/>
<text transform="translate(303.13,255.13) scale(1,1.05)" font-size="7.8" fill="#000" stroke="#000" stroke-width="0.1" xml:space="preserve"> 3.0%</text>
<rect x="298.14" y="257.20" width="12.76" height="8.2" fill="#c2d1f3" stroke="#1e1e1e" stroke-width="0.8"/>
<text transform="translate(313.30,264.13) scale(1,1.05)" font-size="7.8" fill="#000" stroke="#000" stroke-width="0.1" xml:space="preserve">14.8%</text>
<rect x="298.14" y="266.20" width="0.34" height="8.2" fill="#d8eefe" stroke="#1e1e1e" stroke-width="0.8"/>
<text transform="translate(300.88,273.13) scale(1,1.05)" font-size="7.8" fill="#000" stroke="#000" stroke-width="0.1" xml:space="preserve"> 0.4%</text>
<rect x="298.14" y="275.20" width="32.67" height="8.2" fill="#a0a4e0" stroke="#1e1e1e" stroke-width="0.8"/>
<text transform="translate(333.21,282.13) scale(1,1.05)" font-size="7.8" fill="#000" stroke="#000" stroke-width="0.1" xml:space="preserve">37.9%</text>
<rect x="298.14" y="284.20" width="1.29" height="8.2" fill="#d6ebfd" stroke="#1e1e1e" stroke-width="0.8"/>
<text transform="translate(301.83,291.13) scale(1,1.05)" font-size="7.8" fill="#000" stroke="#000" stroke-width="0.1" xml:space="preserve"> 1.5%</text>
<rect x="298.14" y="293.20" width="0.17" height="8.2" fill="#d8eefe" stroke="#1e1e1e" stroke-width="0.8"/>
<text transform="translate(300.71,300.13) scale(1,1.05)" font-size="7.8" fill="#000" stroke="#000" stroke-width="0.1" xml:space="preserve"> 0.2%</text>
<rect x="298.14" y="302.20" width="1.81" height="8.2" fill="#d5eafd" stroke="#1e1e1e" stroke-width="0.8"/>
<text transform="translate(302.35,309.13) scale(1,1.05)" font-size="7.8" fill="#000" stroke="#000" stroke-width="0.1" xml:space="preserve"> 2.1%</text>
<rect x="298.14" y="311.20" width="5.43" height="8.2" fill="#cfe2fa" stroke="#1e1e1e" stroke-width="0.8"/>
<text transform="translate(305.97,318.13) scale(1,1.05)" font-size="7.8" fill="#000" stroke="#000" stroke-width="0.1" xml:space="preserve"> 6.3%</text>
<rect x="298.14" y="320.20" width="28.19" height="8.2" fill="#a8aee4" stroke="#1e1e1e" stroke-width="0.8"/>
<text transform="translate(328.73,327.13) scale(1,1.05)" font-size="7.8" fill="#000" stroke="#000" stroke-width="0.1" xml:space="preserve">32.7%</text>
<rect x="396.86" y="194.20" width="68.27" height="8.2" fill="#5b59be" stroke="#1e1e1e" stroke-width="0.8"/>
<text transform="translate(462.83,201.13) scale(1,1.05)" font-size="7.8" text-anchor="end" fill="#ffffff" xml:space="preserve">79.2%</text>
<rect x="396.86" y="203.20" width="25.60" height="8.2" fill="#acb4e7" stroke="#1e1e1e" stroke-width="0.8"/>
<text transform="translate(424.86,210.13) scale(1,1.05)" font-size="7.8" fill="#000" stroke="#000" stroke-width="0.1" xml:space="preserve">29.7%</text>
<line x1="396.86" y1="212.20" x2="396.86" y2="220.40" stroke="#1e1e1e" stroke-width="0.8"/>
<text transform="translate(399.26,219.13) scale(1,1.05)" font-size="7.8" fill="#000" stroke="#000" stroke-width="0.1" xml:space="preserve"> 0.0%</text>
<rect x="396.86" y="221.20" width="22.93" height="8.2" fill="#b1bae9" stroke="#1e1e1e" stroke-width="0.8"/>
<text transform="translate(422.19,228.13) scale(1,1.05)" font-size="7.8" fill="#000" stroke="#000" stroke-width="0.1" xml:space="preserve">26.6%</text>
<rect x="396.86" y="230.20" width="64.31" height="8.2" fill="#6461c2" stroke="#1e1e1e" stroke-width="0.8"/>
<text transform="translate(458.87,237.13) scale(1,1.05)" font-size="7.8" text-anchor="end" fill="#ffffff" xml:space="preserve">74.6%</text>
<rect x="396.86" y="239.20" width="2.15" height="8.2" fill="#d5e9fd" stroke="#1e1e1e" stroke-width="0.8"/>
<text transform="translate(401.41,246.13) scale(1,1.05)" font-size="7.8" fill="#000" stroke="#000" stroke-width="0.1" xml:space="preserve"> 2.5%</text>
<rect x="396.86" y="248.20" width="0.17" height="8.2" fill="#d8eefe" stroke="#1e1e1e" stroke-width="0.8"/>
<text transform="translate(399.43,255.13) scale(1,1.05)" font-size="7.8" fill="#000" stroke="#000" stroke-width="0.1" xml:space="preserve"> 0.2%</text>
<rect x="396.86" y="257.20" width="7.33" height="8.2" fill="#ccddf8" stroke="#1e1e1e" stroke-width="0.8"/>
<text transform="translate(406.59,264.13) scale(1,1.05)" font-size="7.8" fill="#000" stroke="#000" stroke-width="0.1" xml:space="preserve"> 8.5%</text>
<rect x="396.86" y="266.20" width="3.02" height="8.2" fill="#d3e7fc" stroke="#1e1e1e" stroke-width="0.8"/>
<text transform="translate(402.28,273.13) scale(1,1.05)" font-size="7.8" fill="#000" stroke="#000" stroke-width="0.1" xml:space="preserve"> 3.5%</text>
<rect x="396.86" y="275.20" width="63.70" height="8.2" fill="#6563c3" stroke="#1e1e1e" stroke-width="0.8"/>
<text transform="translate(458.26,282.13) scale(1,1.05)" font-size="7.8" text-anchor="end" fill="#ffffff" xml:space="preserve">73.9%</text>
<rect x="396.86" y="284.20" width="4.48" height="8.2" fill="#d1e4fa" stroke="#1e1e1e" stroke-width="0.8"/>
<text transform="translate(403.74,291.13) scale(1,1.05)" font-size="7.8" fill="#000" stroke="#000" stroke-width="0.1" xml:space="preserve"> 5.2%</text>
<line x1="396.86" y1="293.20" x2="396.86" y2="301.40" stroke="#1e1e1e" stroke-width="0.8"/>
<text transform="translate(399.26,300.13) scale(1,1.05)" font-size="7.8" fill="#000" stroke="#000" stroke-width="0.1" xml:space="preserve"> 0.0%</text>
<rect x="396.86" y="302.20" width="7.07" height="8.2" fill="#ccdef8" stroke="#1e1e1e" stroke-width="0.8"/>
<text transform="translate(406.33,309.13) scale(1,1.05)" font-size="7.8" fill="#000" stroke="#000" stroke-width="0.1" xml:space="preserve"> 8.2%</text>
<rect x="396.86" y="311.20" width="10.95" height="8.2" fill="#c6d5f4" stroke="#1e1e1e" stroke-width="0.8"/>
<text transform="translate(410.21,318.13) scale(1,1.05)" font-size="7.8" fill="#000" stroke="#000" stroke-width="0.1" xml:space="preserve">12.7%</text>
<rect x="396.86" y="320.20" width="33.45" height="8.2" fill="#9ea3e0" stroke="#1e1e1e" stroke-width="0.8"/>
<text transform="translate(432.71,327.13) scale(1,1.05)" font-size="7.8" fill="#000" stroke="#000" stroke-width="0.1" xml:space="preserve">38.8%</text>
<rect x="495.58" y="194.20" width="74.56" height="8.2" fill="#4d4db8" stroke="#1e1e1e" stroke-width="0.8"/>
<text transform="translate(567.84,201.13) scale(1,1.05)" font-size="7.8" text-anchor="end" fill="#ffffff" xml:space="preserve">86.5%</text>
<rect x="495.58" y="203.20" width="40.34" height="8.2" fill="#9294d9" stroke="#1e1e1e" stroke-width="0.8"/>
<text transform="translate(538.32,210.13) scale(1,1.05)" font-size="7.8" fill="#000" stroke="#000" stroke-width="0.1" xml:space="preserve">46.8%</text>
<rect x="495.58" y="212.20" width="30.95" height="8.2" fill="#a3a8e2" stroke="#1e1e1e" stroke-width="0.8"/>
<text transform="translate(528.93,219.13) scale(1,1.05)" font-size="7.8" fill="#000" stroke="#000" stroke-width="0.1" xml:space="preserve">35.9%</text>
<rect x="495.58" y="221.20" width="15.52" height="8.2" fill="#becbf0" stroke="#1e1e1e" stroke-width="0.8"/>
<text transform="translate(513.50,228.13) scale(1,1.05)" font-size="7.8" fill="#000" stroke="#000" stroke-width="0.1" xml:space="preserve">18.0%</text>
<rect x="495.58" y="230.20" width="15.43" height="8.2" fill="#becbf0" stroke="#1e1e1e" stroke-width="0.8"/>
<text transform="translate(513.41,237.13) scale(1,1.05)" font-size="7.8" fill="#000" stroke="#000" stroke-width="0.1" xml:space="preserve">17.9%</text>
<rect x="495.58" y="239.20" width="8.45" height="8.2" fill="#cadbf7" stroke="#1e1e1e" stroke-width="0.8"/>
<text transform="translate(506.43,246.13) scale(1,1.05)" font-size="7.8" fill="#000" stroke="#000" stroke-width="0.1" xml:space="preserve"> 9.8%</text>
<rect x="495.58" y="248.20" width="86.20" height="8.2" fill="#2c36ad" stroke="#1e1e1e" stroke-width="0.8"/>
<text transform="translate(579.48,255.13) scale(1,1.05)" font-size="7.8" text-anchor="end" fill="#ffffff" xml:space="preserve">100.0%</text>
<rect x="495.58" y="257.20" width="7.41" height="8.2" fill="#ccddf8" stroke="#1e1e1e" stroke-width="0.8"/>
<text transform="translate(505.39,264.13) scale(1,1.05)" font-size="7.8" fill="#000" stroke="#000" stroke-width="0.1" xml:space="preserve"> 8.6%</text>
<rect x="495.58" y="266.20" width="7.24" height="8.2" fill="#ccdef8" stroke="#1e1e1e" stroke-width="0.8"/>
<text transform="translate(505.22,273.13) scale(1,1.05)" font-size="7.8" fill="#000" stroke="#000" stroke-width="0.1" xml:space="preserve"> 8.4%</text>
<rect x="495.58" y="275.20" width="40.86" height="8.2" fill="#9193d9" stroke="#1e1e1e" stroke-width="0.8"/>
<text transform="translate(538.84,282.13) scale(1,1.05)" font-size="7.8" fill="#000" stroke="#000" stroke-width="0.1" xml:space="preserve">47.4%</text>
<rect x="495.58" y="284.20" width="5.78" height="8.2" fill="#cee1f9" stroke="#1e1e1e" stroke-width="0.8"/>
<text transform="translate(503.76,291.13) scale(1,1.05)" font-size="7.8" fill="#000" stroke="#000" stroke-width="0.1" xml:space="preserve"> 6.7%</text>
<rect x="495.58" y="293.20" width="0.78" height="8.2" fill="#d7edfe" stroke="#1e1e1e" stroke-width="0.8"/>
<text transform="translate(498.76,300.13) scale(1,1.05)" font-size="7.8" fill="#000" stroke="#000" stroke-width="0.1" xml:space="preserve"> 0.9%</text>
<rect x="495.58" y="302.20" width="11.81" height="8.2" fill="#c4d3f4" stroke="#1e1e1e" stroke-width="0.8"/>
<text transform="translate(509.79,309.13) scale(1,1.05)" font-size="7.8" fill="#000" stroke="#000" stroke-width="0.1" xml:space="preserve">13.7%</text>
<rect x="495.58" y="311.20" width="11.38" height="8.2" fill="#c5d4f4" stroke="#1e1e1e" stroke-width="0.8"/>
<text transform="translate(509.36,318.13) scale(1,1.05)" font-size="7.8" fill="#000" stroke="#000" stroke-width="0.1" xml:space="preserve">13.2%</text>
<rect x="495.58" y="320.20" width="28.10" height="8.2" fill="#a8aee5" stroke="#1e1e1e" stroke-width="0.8"/>
<text transform="translate(526.08,327.13) scale(1,1.05)" font-size="7.8" fill="#000" stroke="#000" stroke-width="0.1" xml:space="preserve">32.6%</text>
<rect x="594.30" y="194.20" width="74.56" height="8.2" fill="#4d4db8" stroke="#1e1e1e" stroke-width="0.8"/>
<text transform="translate(666.56,201.13) scale(1,1.05)" font-size="7.8" text-anchor="end" fill="#ffffff" xml:space="preserve">86.5%</text>
<rect x="594.30" y="203.20" width="68.79" height="8.2" fill="#5a58be" stroke="#1e1e1e" stroke-width="0.8"/>
<text transform="translate(660.79,210.13) scale(1,1.05)" font-size="7.8" text-anchor="end" fill="#ffffff" xml:space="preserve">79.8%</text>
<rect x="594.30" y="212.20" width="58.62" height="8.2" fill="#6f6dc8" stroke="#1e1e1e" stroke-width="0.8"/>
<text transform="translate(655.32,219.13) scale(1,1.05)" font-size="7.8" fill="#000" stroke="#000" stroke-width="0.1" xml:space="preserve">68.0%</text>
<rect x="594.30" y="221.20" width="40.86" height="8.2" fill="#9193d9" stroke="#1e1e1e" stroke-width="0.8"/>
<text transform="translate(637.56,228.13) scale(1,1.05)" font-size="7.8" fill="#000" stroke="#000" stroke-width="0.1" xml:space="preserve">47.4%</text>
<rect x="594.30" y="230.20" width="68.36" height="8.2" fill="#5b59be" stroke="#1e1e1e" stroke-width="0.8"/>
<text transform="translate(660.36,237.13) scale(1,1.05)" font-size="7.8" text-anchor="end" fill="#ffffff" xml:space="preserve">79.3%</text>
<rect x="594.30" y="239.20" width="4.83" height="8.2" fill="#d0e3fa" stroke="#1e1e1e" stroke-width="0.8"/>
<text transform="translate(601.53,246.13) scale(1,1.05)" font-size="7.8" fill="#000" stroke="#000" stroke-width="0.1" xml:space="preserve"> 5.6%</text>
<rect x="594.30" y="248.20" width="6.38" height="8.2" fill="#cde0f9" stroke="#1e1e1e" stroke-width="0.8"/>
<text transform="translate(603.08,255.13) scale(1,1.05)" font-size="7.8" fill="#000" stroke="#000" stroke-width="0.1" xml:space="preserve"> 7.4%</text>
<rect x="594.30" y="257.20" width="14.05" height="8.2" fill="#c0cef2" stroke="#1e1e1e" stroke-width="0.8"/>
<text transform="translate(610.75,264.13) scale(1,1.05)" font-size="7.8" fill="#000" stroke="#000" stroke-width="0.1" xml:space="preserve">16.3%</text>
<rect x="594.30" y="266.20" width="1.38" height="8.2" fill="#d6ebfd" stroke="#1e1e1e" stroke-width="0.8"/>
<text transform="translate(598.08,273.13) scale(1,1.05)" font-size="7.8" fill="#000" stroke="#000" stroke-width="0.1" xml:space="preserve"> 1.6%</text>
<rect x="594.30" y="275.20" width="68.70" height="8.2" fill="#5a58be" stroke="#1e1e1e" stroke-width="0.8"/>
<text transform="translate(660.70,282.13) scale(1,1.05)" font-size="7.8" text-anchor="end" fill="#ffffff" xml:space="preserve">79.7%</text>
<rect x="594.30" y="284.20" width="13.36" height="8.2" fill="#c1d0f2" stroke="#1e1e1e" stroke-width="0.8"/>
<text transform="translate(610.06,291.13) scale(1,1.05)" font-size="7.8" fill="#000" stroke="#000" stroke-width="0.1" xml:space="preserve">15.5%</text>
<rect x="594.30" y="293.20" width="24.31" height="8.2" fill="#aeb7e8" stroke="#1e1e1e" stroke-width="0.8"/>
<text transform="translate(621.01,300.13) scale(1,1.05)" font-size="7.8" fill="#000" stroke="#000" stroke-width="0.1" xml:space="preserve">28.2%</text>
<rect x="594.30" y="302.20" width="56.72" height="8.2" fill="#7371ca" stroke="#1e1e1e" stroke-width="0.8"/>
<text transform="translate(653.42,309.13) scale(1,1.05)" font-size="7.8" fill="#000" stroke="#000" stroke-width="0.1" xml:space="preserve">65.8%</text>
<rect x="594.30" y="311.20" width="14.05" height="8.2" fill="#c0cef2" stroke="#1e1e1e" stroke-width="0.8"/>
<text transform="translate(610.75,318.13) scale(1,1.05)" font-size="7.8" fill="#000" stroke="#000" stroke-width="0.1" xml:space="preserve">16.3%</text>
<rect x="594.30" y="320.20" width="41.55" height="8.2" fill="#9091d8" stroke="#1e1e1e" stroke-width="0.8"/>
<text transform="translate(638.25,327.13) scale(1,1.05)" font-size="7.8" fill="#000" stroke="#000" stroke-width="0.1" xml:space="preserve">48.2%</text>
<line x1="96.50" y1="329.4" x2="191.00" y2="329.4" stroke="#404040" stroke-width="0.95"/>
<line x1="195.22" y1="329.4" x2="289.72" y2="329.4" stroke="#404040" stroke-width="0.95"/>
<line x1="293.94" y1="329.4" x2="388.44" y2="329.4" stroke="#404040" stroke-width="0.95"/>
<line x1="392.66" y1="329.4" x2="487.16" y2="329.4" stroke="#404040" stroke-width="0.95"/>
<line x1="491.38" y1="329.4" x2="585.88" y2="329.4" stroke="#404040" stroke-width="0.95"/>
<line x1="590.10" y1="329.4" x2="684.60" y2="329.4" stroke="#404040" stroke-width="0.95"/>
<defs><linearGradient id="lg" x1="0" x2="1" y1="0" y2="0">
<stop offset="0.000" stop-color="#d8eefe"/>
<stop offset="0.050" stop-color="#d1e4fb"/>
<stop offset="0.100" stop-color="#cadaf7"/>
<stop offset="0.150" stop-color="#c2d1f3"/>
<stop offset="0.200" stop-color="#bbc7ef"/>
<stop offset="0.250" stop-color="#b3bdeb"/>
<stop offset="0.300" stop-color="#acb3e7"/>
<stop offset="0.350" stop-color="#a4aae3"/>
<stop offset="0.400" stop-color="#9da0df"/>
<stop offset="0.450" stop-color="#9597db"/>
<stop offset="0.500" stop-color="#8d8ed7"/>
<stop offset="0.550" stop-color="#8585d2"/>
<stop offset="0.600" stop-color="#7d7bce"/>
<stop offset="0.650" stop-color="#7472ca"/>
<stop offset="0.700" stop-color="#6c69c6"/>
<stop offset="0.750" stop-color="#6361c2"/>
<stop offset="0.800" stop-color="#5a58be"/>
<stop offset="0.850" stop-color="#504fba"/>
<stop offset="0.900" stop-color="#4547b5"/>
<stop offset="0.950" stop-color="#3a3eb1"/>
<stop offset="1.000" stop-color="#2c36ad"/>
</linearGradient></defs>
<rect x="358.8" y="355.7" width="63.60" height="12.50" fill="url(#lg)"/>
<line x1="358.80" y1="355.7" x2="358.80" y2="358.20" stroke="#fff" stroke-width="0.5"/>
<line x1="358.80" y1="365.70" x2="358.80" y2="368.2" stroke="#fff" stroke-width="0.5"/>
<text transform="translate(358.80,377.44) scale(1,1.05)" font-size="6.5" text-anchor="middle" fill="#000" stroke="#000" stroke-width="0.1" xml:space="preserve">0</text>
<line x1="374.70" y1="355.7" x2="374.70" y2="358.20" stroke="#fff" stroke-width="0.5"/>
<line x1="374.70" y1="365.70" x2="374.70" y2="368.2" stroke="#fff" stroke-width="0.5"/>
<text transform="translate(374.70,377.44) scale(1,1.05)" font-size="6.5" text-anchor="middle" fill="#000" stroke="#000" stroke-width="0.1" xml:space="preserve">25</text>
<line x1="390.60" y1="355.7" x2="390.60" y2="358.20" stroke="#fff" stroke-width="0.5"/>
<line x1="390.60" y1="365.70" x2="390.60" y2="368.2" stroke="#fff" stroke-width="0.5"/>
<text transform="translate(390.60,377.44) scale(1,1.05)" font-size="6.5" text-anchor="middle" fill="#000" stroke="#000" stroke-width="0.1" xml:space="preserve">50</text>
<line x1="406.50" y1="355.7" x2="406.50" y2="358.20" stroke="#fff" stroke-width="0.5"/>
<line x1="406.50" y1="365.70" x2="406.50" y2="368.2" stroke="#fff" stroke-width="0.5"/>
<text transform="translate(406.50,377.44) scale(1,1.05)" font-size="6.5" text-anchor="middle" fill="#000" stroke="#000" stroke-width="0.1" xml:space="preserve">75</text>
<line x1="422.40" y1="355.7" x2="422.40" y2="358.20" stroke="#fff" stroke-width="0.5"/>
<line x1="422.40" y1="365.70" x2="422.40" y2="368.2" stroke="#fff" stroke-width="0.5"/>
<text transform="translate(422.40,377.44) scale(1,1.05)" font-size="6.5" text-anchor="middle" fill="#000" stroke="#000" stroke-width="0.1" xml:space="preserve">100</text>
<text transform="translate(390.50,350.54) scale(1,1.0)" font-size="8.2" text-anchor="middle" fill="#000" stroke="#000" stroke-width="0.1" xml:space="preserve">Proportion</text>
</svg>
</body></html>
